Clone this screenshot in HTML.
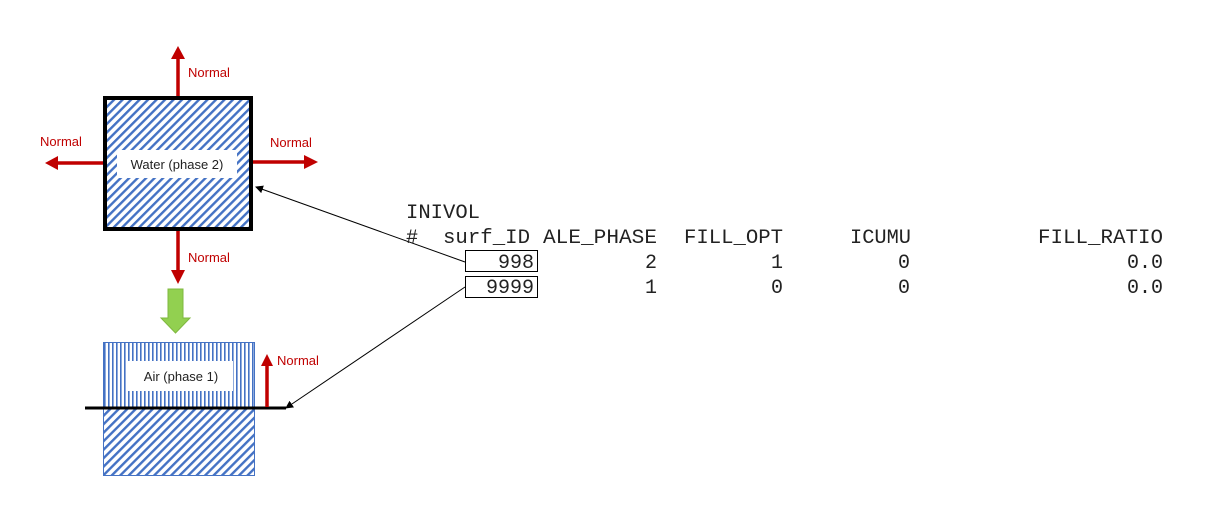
<!DOCTYPE html>
<html><head><style>html,body{margin:0;padding:0;background:#fff;width:1212px;height:525px;overflow:hidden}</style></head>
<body>
<svg width="1212" height="525" viewBox="0 0 1212 525" xmlns="http://www.w3.org/2000/svg">
<defs>
<pattern id="diag" patternUnits="userSpaceOnUse" width="6" height="6" patternTransform="rotate(45)">
<rect width="6" height="6" fill="#fff"/><rect width="2.4" height="6" fill="#4472c4"/>
</pattern>
<pattern id="vert" patternUnits="userSpaceOnUse" width="4" height="4">
<rect width="4" height="4" fill="#fff"/><rect width="1.6" height="4" fill="#4472c4"/>
</pattern>
<marker id="ah" markerWidth="8" markerHeight="8" refX="7" refY="4" orient="auto" markerUnits="userSpaceOnUse">
<path d="M0,0 L8,4 L0,8 z" fill="#000"/>
</marker>
</defs>
<g font-family="'Liberation Sans', sans-serif" font-size="13" fill="#c00000">
<!-- water box -->
<rect x="105" y="98" width="146" height="131" fill="url(#diag)" stroke="#000" stroke-width="4"/>
<rect x="117" y="150" width="120" height="28" fill="#fff"/>
<text x="177" y="169" fill="#222" text-anchor="middle">Water (phase 2)</text>
<!-- red arrows -->
<line x1="178" y1="96" x2="178" y2="58" stroke="#c00000" stroke-width="3.5"/>
<path d="M171,59 L178,46 L185,59 z"/>
<line x1="103" y1="163" x2="57" y2="163" stroke="#c00000" stroke-width="3.5"/>
<path d="M58,156 L45,163 L58,170 z"/>
<line x1="253" y1="162" x2="305" y2="162" stroke="#c00000" stroke-width="3.5"/>
<path d="M304,155 L318,162 L304,169 z"/>
<line x1="178" y1="231" x2="178" y2="271" stroke="#c00000" stroke-width="3.5"/>
<path d="M171,270 L178,284 L185,270 z"/>
<text x="188" y="77">Normal</text>
<text x="40" y="146">Normal</text>
<text x="270" y="147">Normal</text>
<text x="188" y="262">Normal</text>
<!-- green arrow -->
<path d="M168,289 H183 V318 H190 L175.5,333 L161,318 H168 z" fill="#92d050" stroke="#7fb83f" stroke-width="1"/>
<!-- air box -->
<rect x="103.5" y="342.5" width="151" height="66" fill="url(#vert)" stroke="#4472c4"/>
<rect x="103.5" y="408.5" width="151" height="67" fill="url(#diag)" stroke="#4472c4"/>
<rect x="128" y="361" width="105" height="30" fill="#fff"/>
<text x="181" y="381" fill="#222" text-anchor="middle">Air (phase 1)</text>
<line x1="85" y1="408" x2="286" y2="408" stroke="#000" stroke-width="3"/>
<line x1="267" y1="407" x2="267" y2="365" stroke="#c00000" stroke-width="3.5"/>
<path d="M261,366 L267,354 L273,366 z"/>
<text x="277" y="365">Normal</text>
</g>
<!-- connectors -->
<line x1="465" y1="262" x2="256" y2="187" stroke="#000" stroke-width="1" marker-end="url(#ah)"/>
<line x1="465" y1="287" x2="286" y2="408" stroke="#000" stroke-width="1" marker-end="url(#ah)"/>
<!-- table -->
<rect x="465.5" y="250.5" width="72" height="21" fill="#fff" stroke="#000"/>
<rect x="465.5" y="276.5" width="72" height="21" fill="#fff" stroke="#000"/>
<g font-family="'Liberation Mono', monospace" font-size="20" fill="#222">
<text x="406" y="218" textLength="74" lengthAdjust="spacingAndGlyphs">INIVOL</text>
<text x="406" y="243">#</text>
<text x="443" y="243" textLength="87" lengthAdjust="spacingAndGlyphs">surf_ID</text>
<text x="543" y="243" textLength="114" lengthAdjust="spacingAndGlyphs">ALE_PHASE</text>
<text x="684" y="243" textLength="99" lengthAdjust="spacingAndGlyphs">FILL_OPT</text>
<text x="850" y="243" textLength="61" lengthAdjust="spacingAndGlyphs">ICUMU</text>
<text x="1038" y="243" textLength="125" lengthAdjust="spacingAndGlyphs">FILL_RATIO</text>
<g text-anchor="end">
<text x="534" y="268">998</text>
<text x="657" y="268">2</text>
<text x="783" y="268">1</text>
<text x="910" y="268">0</text>
<text x="1163" y="268">0.0</text>
<text x="534" y="293">9999</text>
<text x="657" y="293">1</text>
<text x="783" y="293">0</text>
<text x="910" y="293">0</text>
<text x="1163" y="293">0.0</text>
</g>
</g>
</svg>
</body></html>
